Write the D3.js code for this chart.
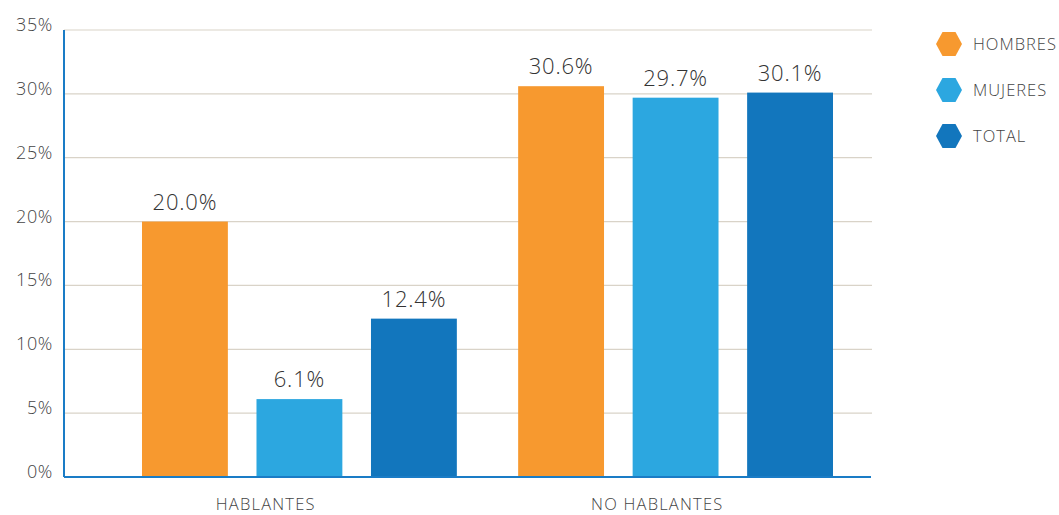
<!DOCTYPE html>
<html><head><meta charset="utf-8">
<script src="https://cdn.jsdelivr.net/npm/d3@7"></script>
<style>body{margin:0;background:#fff;} text{font-family:"Open Sans",sans-serif;font-weight:300;}</style>
</head><body>
<svg id="c" width="1059" height="515"></svg>
<script>
const categories = ["HABLANTES", "NO HABLANTES"];
const seriesNames = ["HOMBRES", "MUJERES", "TOTAL"];
const hombres = [20.0, 30.6];
const mujeres = [6.1, 29.7];
const total = [12.4, 30.1];
const yTicks = [0, 5, 10, 15, 20, 25, 30, 35];
const colors = ["#F7992F", "#2CA7E0", "#1276BD"];

const series = [hombres, mujeres, total];
const svg = d3.select("#c");
const L = 64, R = 871, T = 30, B = 477;

const y = d3.scaleLinear().domain([0, 35]).range([B, T]);
const xLabel = d3.scaleBand().domain(categories).range([L, R]);
const xGroup = d3.scaleBand().domain(categories).range([142, 833]).paddingInner(0.163).paddingOuter(0);
const xInner = d3.scaleBand().domain(seriesNames).range([0, xGroup.bandwidth()]).paddingInner(0.25);

// gridlines
svg.append("g").selectAll("line").data(yTicks.filter(d => d > 0)).join("line")
  .attr("x1", L).attr("x2", R + 1).attr("y1", d => y(d)).attr("y2", d => y(d))
  .attr("stroke", "#d9d3c8").attr("stroke-width", 1.2);

// y labels
svg.append("g").selectAll("text").data(yTicks).join("text")
  .attr("x", 53).attr("y", d => y(d) + 1).attr("text-anchor", "end")
  .attr("font-size", 18).attr("letter-spacing", 0.6).attr("fill", "#444")
  .text(d => d + "%");

// bars
categories.forEach((c, ci) => {
  const g = svg.append("g").attr("transform", `translate(${xGroup(c)},0)`);
  seriesNames.forEach((s, si) => {
    const v = series[si][ci];
    g.append("rect").attr("x", xInner(s)).attr("width", xInner.bandwidth())
      .attr("y", y(v)).attr("height", B - y(v)).attr("fill", colors[si]);
    g.append("text").attr("x", xInner(s) + xInner.bandwidth() / 2).attr("y", y(v) - 12)
      .attr("text-anchor", "middle").attr("font-size", 22).attr("letter-spacing", 0.8).attr("fill", "#333")
      .text(v.toFixed(1) + "%");
  });
});

// axes lines
svg.append("line").attr("x1", L).attr("x2", L).attr("y1", T).attr("y2", B)
  .attr("stroke", "#1a7cc6").attr("stroke-width", 2);
svg.append("line").attr("x1", L).attr("x2", R).attr("y1", B).attr("y2", B)
  .attr("stroke", "#1a7cc6").attr("stroke-width", 2);

// category labels
const labelOffset = [0, -12];
svg.append("g").selectAll("text").data(categories).join("text")
  .attr("x", (d, i) => xLabel(d) + xLabel.bandwidth() / 2 + labelOffset[i])
  .attr("y", 510).attr("text-anchor", "middle").attr("font-size", 16.5).attr("letter-spacing", 1.2).attr("fill", "#444")
  .text(d => d);

// legend
const hex = (cx, cy, w, h) => {
  const q = w / 4;
  return [[cx - w/2, cy], [cx - q, cy - h/2], [cx + q, cy - h/2], [cx + w/2, cy], [cx + q, cy + h/2], [cx - q, cy + h/2]]
    .map(p => p.join(",")).join(" ");
};
const lg = svg.append("g");
seriesNames.forEach((s, i) => {
  const cy = 44 + i * 46;
  lg.append("polygon").attr("points", hex(949, cy, 26, 24)).attr("fill", colors[i]);
  lg.append("text").attr("x", 973).attr("y", cy + 6).attr("font-size", 16.5).attr("letter-spacing", 1).attr("fill", "#444").text(s);
});
</script>
</body></html>
